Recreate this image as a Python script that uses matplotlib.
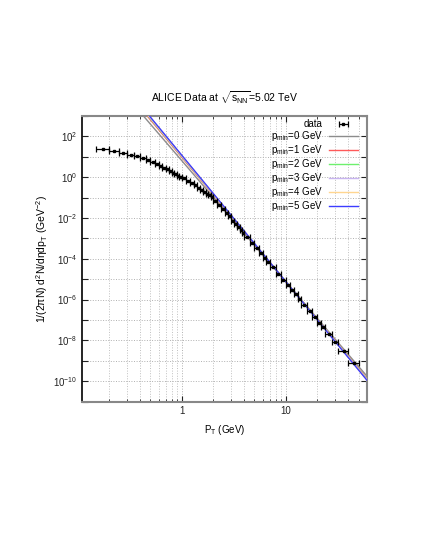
import numpy as np
import matplotlib
matplotlib.use("Agg")
import matplotlib.pyplot as plt
from matplotlib.ticker import LogLocator, FuncFormatter, NullLocator, NullFormatter

plt.rcParams['font.family'] = ['Liberation Sans', 'DejaVu Sans']
plt.rcParams['mathtext.fontset'] = 'custom'
plt.rcParams['mathtext.rm'] = 'Liberation Sans'
plt.rcParams['mathtext.it'] = 'Liberation Sans:italic'
plt.rcParams['mathtext.sf'] = 'Liberation Sans'

# ALICE spectrum: bin centres, half widths, yields
pt = [0.175, 0.225, 0.275, 0.325, 0.375, 0.425, 0.475, 0.525, 0.575, 0.625,
      0.675, 0.725, 0.775, 0.825, 0.875, 0.925, 0.975,
      1.05, 1.15, 1.25, 1.35, 1.45, 1.55, 1.65, 1.75, 1.85, 1.95,
      2.1, 2.3, 2.5, 2.7, 2.9, 3.1, 3.3, 3.5, 3.7, 3.9,
      4.25, 4.75, 5.25, 5.75, 6.25, 6.75, 7.5, 8.5, 9.5,
      10.5, 11.5, 12.5, 13.5, 15, 17, 19, 21, 23, 26, 30, 36, 45]
pt_hw = [0.025] * 17 + [0.05] * 10 + [0.1] * 10 + [0.25] * 6 + [0.5] * 7 \
    + [1.0] * 5 + [2.0, 2.0, 4.0, 5.0]
yield_ = [22.9, 19.1, 15.1, 12.6, 10.5, 8.32, 6.61, 5.37, 4.37, 3.55,
          2.88, 2.40, 2.00, 1.66, 1.41, 1.20, 1.05,
          0.871, 0.661, 0.513, 0.398, 0.309, 0.245, 0.195, 0.158, 0.129, 0.102,
          7.08e-2, 4.47e-2, 2.88e-2, 1.86e-2, 1.26e-2, 7.41e-3, 5.13e-3, 3.63e-3, 2.63e-3, 1.91e-3,
          1.15e-3, 5.89e-4, 3.24e-4, 1.86e-4, 1.15e-4, 7.24e-5, 3.80e-5, 1.78e-5, 9.12e-6,
          5.01e-6, 2.95e-6, 1.78e-6, 1.12e-6, 5.6e-7, 2.82e-7, 1.45e-7, 7.4e-8, 4.3e-8,
          2.1e-8, 8.5e-9, 3.0e-9, 8.0e-10]

# power law fits A * pT^-n for different pmin
fit_labels = ['0', '1', '2', '3', '4', '5']
fit_A = [6.52, 9.55, 10.5, 11.0, 11.5, 12.0]
fit_n = [5.94, 6.10, 6.14, 6.16, 6.18, 6.20]
fit_colors = ['#8c8c8c', '#ff5a5a', '#6ef06e', '#c8b4f0', '#ffd690', '#3c3cff']

fig = plt.figure(figsize=(4.25, 5.5), dpi=100)
ax = fig.add_axes([0.193, 0.270, 0.670, 0.519])

xx = np.logspace(np.log10(0.11), np.log10(60), 200)
for lab, A, n, c in zip(fit_labels, fit_A, fit_n, fit_colors):
    ax.plot(xx, A * xx ** (-n), color=c, lw=1.0,
            label=r'p$_{\mathrm{min}}$=%s GeV' % lab, zorder=3)

ax.errorbar(pt, yield_, xerr=pt_hw, fmt='s', ms=1.8, color='black',
            ecolor='black', elinewidth=0.9, capsize=2.0, capthick=0.9,
            label='data', zorder=4)

ax.set_xscale('log')
ax.set_yscale('log')
ax.set_xlim(0.11, 60)
ax.set_ylim(1e-11, 1e3)

ax.xaxis.set_major_locator(LogLocator(base=10, numticks=10))
ax.xaxis.set_minor_locator(LogLocator(base=10, subs=np.arange(2, 10), numticks=20))
ax.xaxis.set_major_formatter(FuncFormatter(lambda v, p: '%g' % v))
ax.xaxis.set_minor_formatter(NullFormatter())

ax.yaxis.set_major_locator(LogLocator(base=10, numticks=30))
ax.yaxis.set_minor_locator(NullLocator())


def yfmt(v, p):
    k = int(round(np.log10(v)))
    if k % 2:
        return ''
    return r'$\mathregular{10^{%d}}$' % k


ax.yaxis.set_major_formatter(FuncFormatter(yfmt))

ax.tick_params(which='both', direction='in', top=True, right=True,
               labelsize=7, colors='#222222')
ax.tick_params(which='major', length=4)
ax.tick_params(which='minor', length=2.5)

ax.grid(which='major', axis='both', color='#b0b0b0', ls=':', lw=0.7)
ax.grid(which='minor', axis='x', color='#c0c0c0', ls=':', lw=0.7)

for s in ['top', 'right', 'bottom']:
    ax.spines[s].set_color('#888888')
    ax.spines[s].set_linewidth(1.5)
ax.spines['left'].set_color('black')
ax.spines['left'].set_linewidth(1.2)

ax.set_xlabel(r'P$_{\mathrm{T}}$ (GeV)', fontsize=7, labelpad=5)
ax.set_ylabel('1/(2πN) d$^2$N/dηdp$_{\\mathrm{T}}$ (GeV$^{-2}$)', fontsize=7.5,
              labelpad=2)
ax.set_title(r'ALICE Data at $\sqrt{\mathrm{s}_{\mathrm{NN}}}$=5.02 TeV',
             fontsize=7.5, pad=10)

h, l = ax.get_legend_handles_labels()
order = [6, 0, 1, 2, 3, 4, 5]
ax.legend([h[i] for i in order], [l[i] for i in order],
          loc='upper right', bbox_to_anchor=(358 / 425, 1 - 119 / 550),
          bbox_transform=fig.transFigure, frameon=False, markerfirst=False,
          fontsize=7, labelspacing=0.0, handlelength=3.0, handletextpad=0.6,
          borderaxespad=0, borderpad=0)

fig.savefig('out.png', dpi=100)
